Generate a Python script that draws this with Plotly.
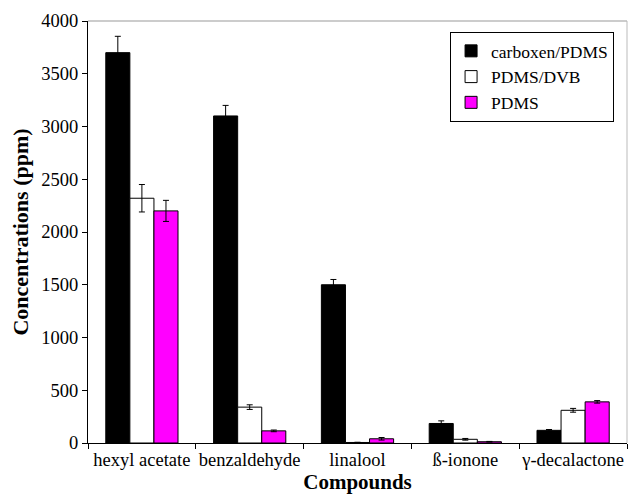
import plotly.graph_objects as go

categories = ["hexyl acetate", "benzaldehyde", "linalool", "ß-ionone", "γ-decalactone"]
series_names = ["carboxen/PDMS", "PDMS/DVB", "PDMS"]
carboxen_pdms = [3700, 3100, 1500, 185, 120]
carboxen_pdms_err = [155, 100, 50, 25, 8]
pdms_dvb = [2320, 340, 5, 35, 310]
pdms_dvb_err = [130, 22, 2, 8, 18]
pdms = [2200, 115, 40, 12, 390]
pdms_err = [100, 8, 12, 3, 12]

colors = ["#000000", "#ffffff", "#ff00ff"]
values = [carboxen_pdms, pdms_dvb, pdms]
errors = [carboxen_pdms_err, pdms_dvb_err, pdms_err]

fig = go.Figure()
for name, v, e, c in zip(series_names, values, errors, colors):
    fig.add_trace(go.Bar(
        name=name, x=categories, y=v,
        marker=dict(color=c, line=dict(color="black", width=1)),
        error_y=dict(type="data", array=e, visible=True, color="black", thickness=1, width=3),
    ))

font_family = "Liberation Serif, Times New Roman, DejaVu Serif, serif"
fig.update_layout(
    width=628, height=496,
    margin=dict(l=88, r=1, t=21, b=53),
    paper_bgcolor="white", plot_bgcolor="white",
    barmode="group", bargap=0.33, bargroupgap=0,
    font=dict(family=font_family, size=18, color="black"),
    showlegend=True,
    legend=dict(
        x=0.976, y=0.974, xanchor="right", yanchor="top",
        bgcolor="white", bordercolor="black", borderwidth=1,
        font=dict(family=font_family, size=17.5, color="black"),
        traceorder="normal", itemwidth=30,
    ),
    xaxis=dict(
        showline=True, linecolor="black", linewidth=1,
        ticks="outside", tickson="boundaries", ticklen=5, tickcolor="black",
        showgrid=False, tickangle=0, automargin=False,
        title=dict(text="<b>Compounds</b>", font=dict(family=font_family, size=21), standoff=4),
        tickfont=dict(family=font_family, size=18.5),
    ),
    yaxis=dict(
        range=[0, 4000], dtick=500,
        showline=True, linecolor="black", linewidth=1,
        ticks="outside", ticklen=5, tickcolor="black",
        showgrid=False, zeroline=False, automargin=False,
        title=dict(text="<b>Concentrations (ppm)</b>", font=dict(family=font_family, size=22), standoff=6),
        tickfont=dict(family=font_family, size=18.5),
    ),
    shapes=[
        dict(type="line", xref="paper", yref="paper", x0=0, x1=1, y0=1, y1=1,
             line=dict(color="#999999", width=1)),
        dict(type="line", xref="paper", yref="paper", x0=1, x1=1, y0=0, y1=1,
             line=dict(color="#bbbbbb", width=1)),
    ],
)

fig.write_html(
    "out.html",
    config={"displayModeBar": False},
    post_script="document.body.style.margin='0';document.body.style.overflow='hidden';",
)
